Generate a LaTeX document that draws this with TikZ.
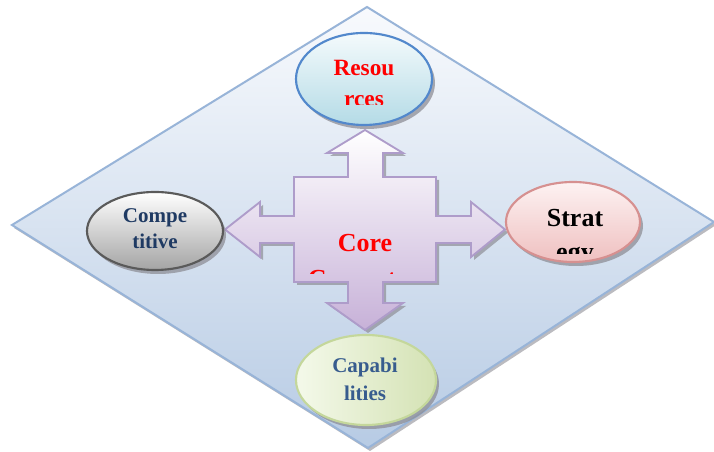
\documentclass[tikz,border=0pt]{standalone}
\usepackage{fontspec}
\setmainfont{Liberation Serif}
\usetikzlibrary{shapes.geometric}
\definecolor{diaborder}{HTML}{98B4D8}
\definecolor{diatop}{HTML}{F8FAFD}
\definecolor{diabot}{HTML}{B7CBE4}
\definecolor{crossborder}{HTML}{AE9CCA}
\definecolor{crossbot}{HTML}{C7B1D8}
\definecolor{resborder}{HTML}{5288CC}
\definecolor{restop}{HTML}{F4FAFC}
\definecolor{resbot}{HTML}{B4DBE6}
\definecolor{comborder}{HTML}{5A5A5A}
\definecolor{combot}{HTML}{A4A4A4}
\definecolor{strborder}{HTML}{D69090}
\definecolor{strtop}{HTML}{FDF2F2}
\definecolor{strbot}{HTML}{EFC0C0}
\definecolor{capborder}{HTML}{C4D79B}
\definecolor{captop}{HTML}{F4F9EA}
\definecolor{capbot}{HTML}{D4E2B4}
\definecolor{navytext}{HTML}{1F3A63}
\definecolor{bluetext}{HTML}{375C8E}
\definecolor{shadowgray}{HTML}{8E8E96}
\begin{document}
\begin{tikzpicture}[x=0.75pt,y=0.75pt,
  shadowstyle/.style={fill=shadowgray,draw=none,opacity=0.75},
  ellborder/.style={line width=1.6pt},
  lbl/.style={anchor=base,inner sep=0pt,font=\bfseries}]
\useasboundingbox (0,0) rectangle (714,452);
\fill[white] (0,0) rectangle (714,452);
% diamond
\coordinate (dT) at (367,445);
\coordinate (dL) at (12,227);
\coordinate (dR) at (714,230);
\coordinate (dB) at (368,4);
\fill[shadowgray,opacity=0.6] ([shift={(2,-3)}]dT) -- ([shift={(2,-3)}]dR) -- ([shift={(2,-3)}]dB) -- ([shift={(2,-3)}]dL) -- cycle;
\draw[diaborder,line width=1.5pt,top color=diatop,bottom color=diabot] (dT) -- (dR) -- (dB) -- (dL) -- cycle;
% cross arrow
\def\crosspath{(365,322) -- (403,299) -- (383,299) -- (383,275) -- (436,275) -- (436,236) -- (471,236) -- (471,250) -- (505,222.5) -- (471,195) -- (471,209) -- (436,209) -- (436,170) -- (383,170) -- (383,149) -- (403,149) -- (365,122) -- (327,149) -- (348,149) -- (348,170) -- (294,170) -- (294,209) -- (260,209) -- (260,195) -- (225,222.5) -- (260,250) -- (260,236) -- (294,236) -- (294,275) -- (348,275) -- (348,299) -- (327,299) -- cycle}
\begin{scope}[shift={(3,-3)}]
\fill[shadowgray,opacity=0.7] \crosspath;
\end{scope}
\draw[crossborder,line width=1.4pt,top color=white,bottom color=crossbot] \crosspath;
% ellipses
\coordinate (res) at (364,373);
\coordinate (com) at (155,221);
\coordinate (str) at (573,230);
\coordinate (cap) at (366,72);
\fill[shadowstyle] ([shift={(3,-4)}]res) ellipse [x radius=68,y radius=46];
\draw[ellborder,resborder,top color=restop,bottom color=resbot] (res) ellipse [x radius=68,y radius=46];
\fill[shadowstyle] ([shift={(3,-4)}]com) ellipse [x radius=68,y radius=39];
\draw[ellborder,comborder,top color=white,bottom color=combot] (com) ellipse [x radius=68,y radius=39];
\fill[shadowstyle] ([shift={(3,-4)}]str) ellipse [x radius=67,y radius=40];
\draw[ellborder,strborder,top color=strtop,bottom color=strbot] (str) ellipse [x radius=67,y radius=40];
\fill[shadowstyle] ([shift={(3,-4)}]cap) ellipse [x radius=70,y radius=45];
\draw[ellborder,capborder,left color=captop,right color=capbot] (cap) ellipse [x radius=70,y radius=45];
% texts
\node[lbl,text=red,font=\bfseries\fontsize{17.5}{20}\selectfont] (res1) at (364,376) {Resou};
\begin{scope}
\clip (0,347) rectangle (714,452);
\node[lbl,text=red,font=\bfseries\fontsize{17.5}{20}\selectfont] (res2) at (364,345) {rces};
\end{scope}
\node[lbl,text=navytext,font=\bfseries\fontsize{15.75}{18}\selectfont] (com1) at (155,229) {Compe};
\node[lbl,text=navytext,font=\bfseries\fontsize{15.75}{18}\selectfont] (com2) at (155,203) {titive};
\node[lbl,text=black,font=\bfseries\fontsize{19.5}{22}\selectfont] (str1) at (575,225) {Strat};
\begin{scope}
\clip (0,198) rectangle (714,452);
\node[lbl,text=black,font=\bfseries\fontsize{19.5}{22}\selectfont] (str2) at (575,191) {egy};
\end{scope}
\node[lbl,text=bluetext,font=\bfseries\fontsize{15.75}{18}\selectfont] (cap1) at (365,79) {Capabi};
\node[lbl,text=bluetext,font=\bfseries\fontsize{15.75}{18}\selectfont] (cap2) at (365,51) {lities};
\node[lbl,text=red,font=\bfseries\fontsize{19.5}{22}\selectfont] (core1) at (365,200) {Core};
\begin{scope}
\clip (0,178.5) rectangle (714,452);
\node[lbl,text=red,font=\bfseries\fontsize{19.5}{22}\selectfont] (core2) at (365,164) {Competen};
\end{scope}
\end{tikzpicture}
\end{document}
